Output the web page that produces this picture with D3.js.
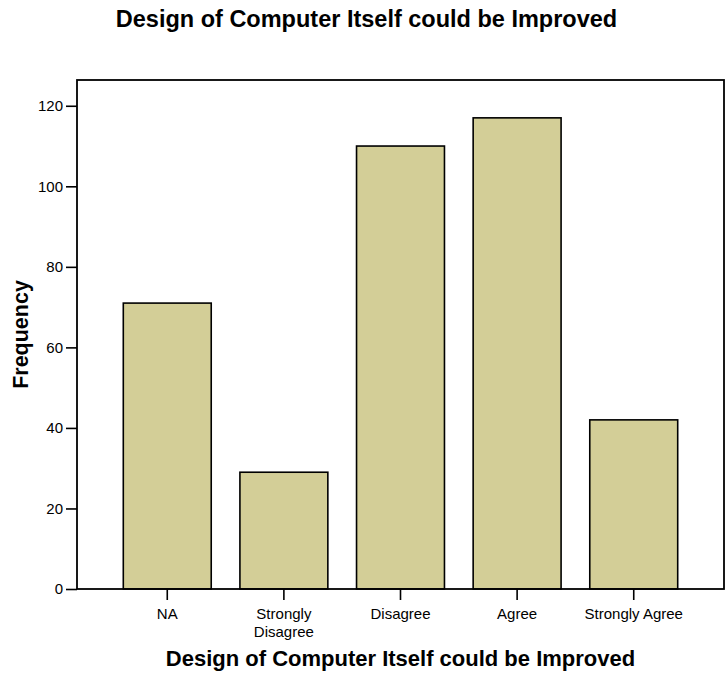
<!DOCTYPE html>
<html>
<head>
<meta charset="utf-8">
<script src="https://cdn.jsdelivr.net/npm/d3@7"></script>
<style>
  body { margin: 0; background: #fff; }
  svg { display: block; font-family: "Liberation Sans", Arial, sans-serif; }
</style>
</head>
<body>
<div id="chart"></div>
<script>
// chart data
const categories = ['NA', 'Strongly Disagree', 'Disagree', 'Agree', 'Strongly Agree'];
const frequencies = [71, 29, 110, 117, 42];
const yTickValues = [0, 20, 40, 60, 80, 100, 120];
const chartTitle = 'Design of Computer Itself could be Improved';
const xTitle = 'Design of Computer Itself could be Improved';
const yTitle = 'Frequency';

const width = 726;
const height = 675;
const margin = { top: 80, right: 2, bottom: 86, left: 77 };
const chartWidth = width - margin.left - margin.right;
const chartHeight = height - margin.top - margin.bottom;

const svg = d3.select('#chart')
    .append('svg')
    .attr('width', width)
    .attr('height', height);

const xScale = d3.scaleBand()
    .domain(categories)
    .range([0, chartWidth])
    .paddingInner(0.246)
    .paddingOuter(0.397);

const yScale = d3.scaleLinear()
    .domain([0, 126.4])
    .range([chartHeight, 0]);

const container = svg.append('g')
    .attr('transform', `translate(${margin.left},${margin.top})`);

// bars
container.append('g')
    .selectAll('rect')
    .data(categories)
    .join('rect')
      .attr('x', d => xScale(d))
      .attr('y', (d, i) => yScale(frequencies[i]))
      .attr('width', xScale.bandwidth())
      .attr('height', (d, i) => chartHeight - yScale(frequencies[i]))
      .attr('fill', '#d3ce97')
      .attr('stroke', '#000')
      .attr('stroke-width', 1.6);

// frame
container.append('rect')
    .attr('width', chartWidth)
    .attr('height', chartHeight)
    .attr('fill', 'none')
    .attr('stroke', '#000')
    .attr('stroke-width', 1.8);

// axes
const yAxis = d3.axisLeft(yScale)
    .tickValues(yTickValues)
    .tickSize(11)
    .tickSizeOuter(0)
    .tickPadding(3);

const xAxis = d3.axisBottom(xScale)
    .tickSize(11)
    .tickSizeOuter(0)
    .tickPadding(8);

const yAxisG = container.append('g').call(yAxis);
const xAxisG = container.append('g')
    .attr('transform', `translate(0,${chartHeight})`)
    .call(xAxis);

[yAxisG, xAxisG].forEach(g => {
    g.select('.domain').remove();
    g.selectAll('.tick line').attr('stroke', '#000').attr('stroke-width', 1.6);
    g.selectAll('.tick text')
        .attr('fill', '#000')
        .style('font-size', '15px')
        .style('font-family', '"Liberation Sans", Arial, sans-serif');
});

// wrap long category names onto two lines
xAxisG.selectAll('.tick text').each(function() {
    const text = d3.select(this);
    if (this.getComputedTextLength() <= xScale.step()) return;
    const words = text.text().split(' ');
    const y = text.attr('y');
    text.text(null);
    words.forEach((w, i) => {
        text.append('tspan')
            .attr('x', 0)
            .attr('y', y)
            .attr('dy', `${0.71 + i * 1.25}em`)
            .text(w);
    });
});

// titles
svg.append('text')
    .attr('x', margin.left + chartWidth / 2 - 34)
    .attr('y', 27)
    .attr('text-anchor', 'middle')
    .style('font-size', '23.5px')
    .style('font-weight', 'bold')
    .text(chartTitle);

svg.append('text')
    .attr('x', margin.left + chartWidth / 2)
    .attr('y', 666)
    .attr('text-anchor', 'middle')
    .style('font-size', '22px')
    .style('font-weight', 'bold')
    .text(xTitle);

svg.append('text')
    .attr('transform', `translate(28,${margin.top + chartHeight / 2}) rotate(-90)`)
    .attr('text-anchor', 'middle')
    .style('font-size', '21.5px')
    .style('font-weight', 'bold')
    .text(yTitle);
</script>
</body>
</html>
